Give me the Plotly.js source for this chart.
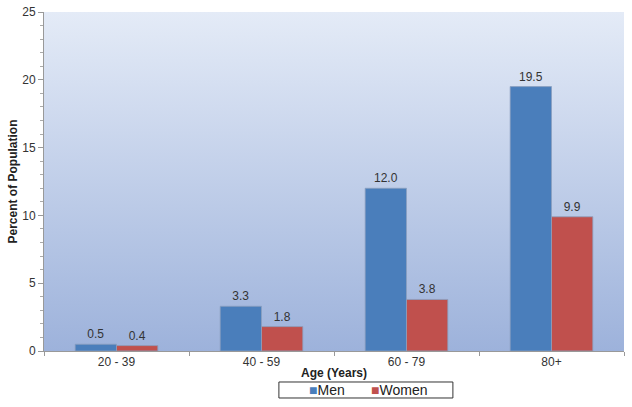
<!DOCTYPE html>
<html>
<head>
<meta charset="utf-8">
<script src="https://cdn.plot.ly/plotly-3.0.1.min.js"></script>
<style>
  body { margin: 0; background: #fff; }
  #chart { width: 632px; height: 407px; }
</style>
</head>
<body>
<div id="chart"></div>
<script>
const ageGroups = ["20 - 39", "40 - 59", "60 - 79", "80+"]
const men = [0.5, 3.3, 12.0, 19.5]
const women = [0.4, 1.8, 3.8, 9.9]
const seriesNames = ["Men", "Women"]
const seriesColors = ["#4a7ebb", "#c0504d"]

// gradient plot background, drawn as an svg image behind the bars
const bgSvg = '<svg xmlns="http://www.w3.org/2000/svg" width="10" height="100" preserveAspectRatio="none">' +
  '<defs><linearGradient id="g" x1="0" y1="0" x2="0" y2="1">' +
  '<stop offset="0" stop-color="#e4ebf7"/><stop offset="1" stop-color="#9db2db"/>' +
  '</linearGradient></defs><rect width="10" height="100" fill="url(#g)"/></svg>'

const fam = "Liberation Sans, Arial, sans-serif"
const font = {family: fam, size: 12, color: "#333"}
const boldFont = {family: fam, size: 12, color: "#222", weight: "bold"}

function barTrace(name, values, color) {
  return {
    name: name,
    type: "bar",
    x: ageGroups,
    y: values,
    text: values.map(v => v.toFixed(1)),
    textposition: "outside",
    textfont: font,
    cliponaxis: false,
    marker: {color: color, line: {color: "#8c9fbf", width: 0.8}},
    hoverinfo: "x+y"
  }
}

const data = [
  barTrace(seriesNames[0], men, seriesColors[0]),
  barTrace(seriesNames[1], women, seriesColors[1])
]

// compact boxed legend under the axis title, like the original
const legendX = [0.453, 0.56]
const legendItems = seriesNames.map((name, i) => ({
  xref: "paper", yref: "paper",
  x: legendX[i], y: -0.115,
  xanchor: "left", yanchor: "middle",
  showarrow: false,
  text: '<span style="color:' + seriesColors[i] + ';font-size:14px">■</span>' + name,
  font: {family: fam, size: 14, color: "#222"}
}))

const layout = {
  width: 632,
  height: 407,
  margin: {l: 44, r: 8, t: 12, b: 56},
  paper_bgcolor: "#fff",
  plot_bgcolor: "rgba(0,0,0,0)",
  font: font,
  barmode: "group",
  bargap: 0.43,
  bargroupgap: 0,
  showlegend: false,
  annotations: legendItems,
  shapes: [{
    type: "rect", xref: "paper", yref: "paper",
    x0: 0.405, x1: 0.705, y0: -0.1386, y1: -0.0914,
    line: {color: "#333", width: 1}, fillcolor: "rgba(0,0,0,0)"
  }],
  images: [{
    source: "data:image/svg+xml;charset=utf-8," + encodeURIComponent(bgSvg),
    xref: "paper", yref: "paper",
    x: 0, y: 1, sizex: 1, sizey: 1,
    xanchor: "left", yanchor: "top",
    sizing: "stretch", layer: "below"
  }],
  xaxis: {
    type: "category",
    automargin: false,
    showgrid: false,
    showline: true, linecolor: "#999", linewidth: 1,
    ticks: "outside", tickson: "boundaries", ticklen: 4, tickcolor: "#999",
    tickfont: font,
    title: {text: "Age (Years)", standoff: 0, font: boldFont}
  },
  yaxis: {
    range: [0, 25],
    dtick: 5,
    automargin: false,
    showgrid: false,
    zeroline: false,
    showline: true, linecolor: "#999", linewidth: 1,
    ticks: "outside", ticklen: 5, tickcolor: "#999",
    minor: {dtick: 1, ticks: "outside", ticklen: 3, tickcolor: "#aaa", showgrid: false},
    tickfont: font,
    title: {text: "Percent of Population", standoff: 2, font: boldFont}
  }
}

Plotly.newPlot("chart", data, layout, {displayModeBar: false, staticPlot: true})
</script>
</body>
</html>
